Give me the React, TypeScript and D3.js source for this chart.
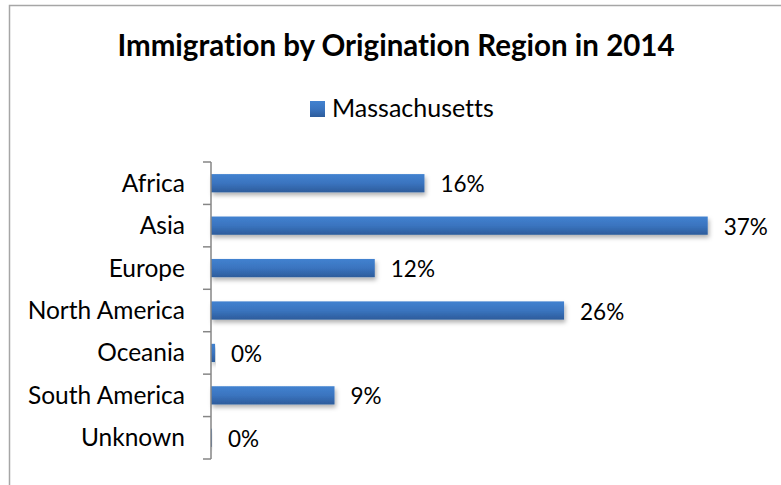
import React from "react";
import * as d3 from "d3";

const categories = ["Africa", "Asia", "Europe", "North America", "Oceania", "South America", "Unknown"];
const values = [15.9, 37.0, 12.2, 26.3, 0.3, 9.2, 0.07];
const valueLabels = ["16%", "37%", "12%", "26%", "0%", "9%", "0%"];
const seriesName = "Massachusetts";
const title = "Immigration by Origination Region in 2014";

const W = 781;
const H = 485;
const FONT = "Lato, 'Open Sans', sans-serif";

export default function App() {
  const y = d3.scaleBand<string>().domain(categories).range([162, 459]).padding(0);
  const x = d3.scaleLinear().domain([0, 40]).range([211, 748]);
  const barH = y.bandwidth() * 0.43;
  const boundaries = d3.range(categories.length + 1).map((i) => 162 + i * y.step());
  const noLig = { fontVariantLigatures: "none" } as React.CSSProperties;

  return (
    <svg width={W} height={H} style={{ position: "absolute", left: 0, top: 0, background: "#fff" }}>
      <defs>
        <linearGradient id="barGrad" x1="0" y1="0" x2="0" y2="1">
          <stop offset="0" stopColor="#4282d0" />
          <stop offset="0.5" stopColor="#3a74bf" />
          <stop offset="1" stopColor="#2d5c9b" />
        </linearGradient>
        <filter id="shadow" x="-10%" y="-50%" width="130%" height="250%">
          <feDropShadow dx="1.5" dy="3" stdDeviation="2" floodColor="#000" floodOpacity="0.3" />
        </filter>
      </defs>
      <rect x={9.5} y={5.5} width={900} height={600} fill="#fff" stroke="#a6a6a6" strokeWidth={1.5} />
      <text x={396} y={56} textAnchor="middle" fontFamily={FONT} fontWeight="bold" fontSize={29.5} fill="#000" style={noLig}>
        {title}
      </text>
      <rect x={310} y={101} width={15} height={16} fill="url(#barGrad)" />
      <text x={332} y={117} fontFamily={FONT} fontSize={25} fill="#000" style={noLig}>
        {seriesName}
      </text>
      {categories.map((c, i) => {
        const cy = (y(c) as number) + y.bandwidth() / 2;
        return (
          <g key={c}>
            <rect
              x={x(0)}
              y={cy - barH / 2}
              width={Math.max(0, x(values[i]) - x(0))}
              height={barH}
              fill="url(#barGrad)"
              filter="url(#shadow)"
            />
            <text x={185} y={cy + 8.5} textAnchor="end" fontFamily={FONT} fontSize={24.5} fill="#000" style={noLig}>
              {c}
            </text>
            <text x={x(values[i]) + 16} y={cy + 9} fontFamily={FONT} fontSize={22.5} fill="#000" style={noLig}>
              {valueLabels[i]}
            </text>
          </g>
        );
      })}
      <line x1={x(0)} x2={x(0)} y1={162} y2={459} stroke="#868686" strokeWidth={1.5} />
      {boundaries.map((b, i) => (
        <line key={i} x1={x(0) - 8} x2={x(0)} y1={b} y2={b} stroke="#868686" strokeWidth={1.5} />
      ))}
    </svg>
  );
}
